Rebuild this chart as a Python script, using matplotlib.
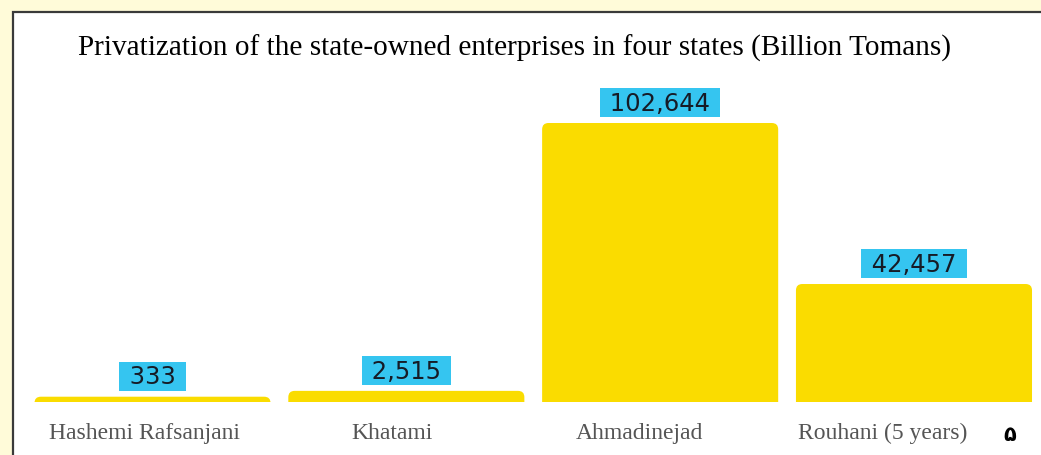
#!/usr/bin/env python3
import matplotlib.pyplot as plt
import matplotlib.transforms as mtransforms
import numpy as np
from matplotlib.patches import Rectangle, FancyBboxPatch

# data
presidents = ["Hashemi Rafsanjani", "Khatami", "Ahmadinejad", "Rouhani (5 years)"]
value_labels = ["333", "2,515", "102,644", "42,457"]
values = [333, 2515, 102644, 42457]
title = "Privatization of the state-owned enterprises in four states (Billion Tomans)"

W, H = 1041, 456
BAR_COLOR = "#fadc00"
BOX_COLOR = "#35c5f0"
CREAM = "#fffbd9"


def px(x, y):
    """ pixel (from top-left) to figure fraction """
    return x / W, 1 - y / H


def main():
    fig = plt.figure(figsize=(W / 100, H / 100), dpi=100)
    fig.patch.set_facecolor(CREAM)

    # white framed panel
    x0, y0 = px(12.5, 12.5)
    fig.patches.append(Rectangle((x0, -0.2), 1.2 - x0, y0 + 0.2, transform=fig.transFigure,
                                 facecolor="white", edgecolor="#3a3a3a", lw=1.6,
                                 zorder=-5))

    fig.text(0.494, 1 - 48 / H, title, ha="center", va="center",
             family="Liberation Serif", fontsize=21.1, color="black")

    ax = fig.add_axes([25.6 / W, 1 - 403 / H, (1040.9 - 25.6) / W, (403 - 60) / H])
    ax.set_zorder(2)
    ax.patch.set_visible(False)
    ax.set_xlim(-0.5, 3.5)
    pad = 1645
    ax.set_ylim(-pad, 126570)
    ax.axis("off")

    x = np.arange(len(values))
    vals = np.array(values, dtype=float)
    bars = ax.bar(x, vals + 3 * pad, bottom=-3 * pad, width=0.93, color=BAR_COLOR)

    # swap the plain bars for rounded ones
    aspect = (1 / 0.002675) / (1 / 253.8)
    for b in bars:
        bx, by = b.get_x(), b.get_y()
        rb = FancyBboxPatch((bx, by), b.get_width(), b.get_height(),
                            boxstyle="round,pad=0,rounding_size=0.025",
                            mutation_aspect=aspect, facecolor=BAR_COLOR,
                            edgecolor="none", clip_on=True)
        b.remove()
        ax.add_patch(rb)

    for xi, v, lab in zip(x, vals, value_labels):
        ax.annotate(" " + lab + " ", (xi, v), xytext=(0, 6), textcoords="offset points",
                    ha="center", va="bottom", fontsize=17.5, color="#161b26",
                    family="DejaVu Sans",
                    bbox=dict(boxstyle="square,pad=0.1", facecolor=BOX_COLOR,
                              edgecolor="none"))

    trans = mtransforms.blended_transform_factory(ax.transData, fig.transFigure)
    label_dx = [-0.03, -0.055, -0.08, -0.125]
    for xi, name, dx in zip(x, presidents, label_dx):
        ax.text(xi + dx, 1 - 439 / H, name, transform=trans, ha="center",
                va="baseline", fontsize=17, color="#555555", family="Liberation Serif",
                clip_on=False)

    # stray persian digit at the lower right
    fig.text(1009.5 / W, 1 - 435 / H, "۵", ha="center", va="center",
             fontsize=15, fontweight="bold", family=["DejaVu Sans"], color="black")

    fig.savefig("out.png", dpi=100, facecolor=fig.get_facecolor())


if __name__ == "__main__":
    main()
